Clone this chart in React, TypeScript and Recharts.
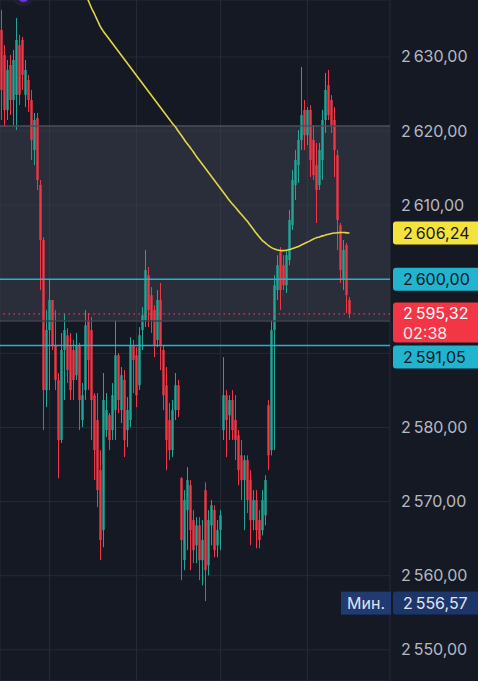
import React from "react";
import {
  ComposedChart,
  Bar,
  Line,
  XAxis,
  YAxis,
  CartesianGrid,
  ReferenceLine,
  ReferenceArea,
} from "recharts";

// --- data (117 candles) ---
const opens = [
  2633.65, 2630.3, 2622.85, 2628.92, 2624.2, 2624.88, 2631.6, 2632.3, 2624.9, 2626.9,
  2624.2, 2617.45, 2621.76, 2612.72, 2605.3, 2585.05, 2593.15, 2597.2, 2591.1, 2586.4,
  2578.3, 2590.45, 2592.45, 2591.1, 2590.45, 2587.05, 2591.1, 2581.0, 2585.05, 2594.5,
  2593.15, 2584.35, 2581.0, 2574.25, 2566.15, 2579.65, 2581.65, 2579.65, 2582.35, 2589.75,
  2582.35, 2586.4, 2579.65, 2581.0, 2591.1, 2589.75, 2585.7, 2593.15, 2594.5, 2600.55,
  2597.85, 2595.85, 2591.8, 2597.2, 2590.45, 2585.7, 2581.0, 2576.95, 2582.35, 2585.7,
  2573.15, 2562.1, 2568.85, 2572.2, 2567.5, 2564.1, 2566.8, 2562.1, 2571.55, 2561.4,
  2566.8, 2568.85, 2564.1, 2566.15, 2579.65, 2584.35, 2581.65, 2583.7, 2581.0, 2578.95,
  2576.25, 2572.9, 2575.6, 2572.9, 2567.5, 2570.2, 2567.5, 2566.15, 2568.15, 2583.0,
  2576.95, 2593.15, 2598.55, 2603.65, 2601.9, 2599.2, 2602.6, 2607.3, 2612.72, 2615.4,
  2618.8, 2622.85, 2619.45, 2622.85, 2618.8, 2615.4, 2612.72, 2616.1, 2621.5, 2626.2,
  2624.2, 2621.5, 2616.75, 2607.3, 2599.9, 2604.6, 2597.2,
];
const highs = [
  2636.35, 2631.6, 2629.6, 2630.3, 2630.95, 2635.27, 2632.98, 2632.7, 2629.6, 2627.55,
  2625.55, 2622.44, 2622.45, 2613.4, 2605.7, 2595.85, 2599.9, 2597.2, 2595.85, 2587.35,
  2592.75, 2595.45, 2593.4, 2592.75, 2591.8, 2592.75, 2591.4, 2586.0, 2595.85, 2595.45,
  2594.9, 2584.65, 2584.65, 2576.95, 2587.35, 2584.65, 2581.95, 2586.0, 2594.5, 2590.05,
  2588.15, 2587.75, 2584.1, 2592.2, 2591.8, 2590.85, 2593.55, 2596.25, 2603.95, 2601.65,
  2598.95, 2596.5, 2598.55, 2599.5, 2591.1, 2588.15, 2583.3, 2583.7, 2587.35, 2586.4,
  2573.3, 2571.55, 2574.65, 2572.9, 2568.85, 2567.9, 2567.9, 2567.5, 2572.6, 2568.85,
  2570.2, 2569.5, 2567.5, 2568.85, 2589.5, 2585.05, 2584.35, 2585.05, 2584.35, 2579.65,
  2578.3, 2576.25, 2576.25, 2574.25, 2571.55, 2571.55, 2568.85, 2571.55, 2573.55, 2583.7,
  2594.5, 2600.55, 2603.25, 2604.35, 2603.25, 2603.95, 2609.35, 2614.75, 2617.45, 2620.15,
  2628.65, 2624.2, 2623.25, 2623.5, 2620.8, 2618.4, 2618.4, 2622.85, 2627.85, 2628.25,
  2624.85, 2623.25, 2617.45, 2607.6, 2605.3, 2604.9, 2597.6,
];
const lows = [
  2621.5, 2620.55, 2621.5, 2622.18, 2620.83, 2620.15, 2623.53, 2625.55, 2623.25, 2622.57,
  2616.1, 2615.42, 2612.05, 2598.55, 2579.65, 2582.75, 2585.05, 2590.45, 2585.05, 2573.15,
  2577.9, 2583.7, 2586.0, 2583.7, 2583.7, 2586.4, 2579.65, 2580.05, 2583.7, 2585.05,
  2578.3, 2572.9, 2569.25, 2562.1, 2563.85, 2578.7, 2576.95, 2578.3, 2578.3, 2581.95,
  2580.6, 2576.0, 2577.35, 2580.05, 2584.65, 2582.75, 2585.05, 2590.45, 2593.55, 2593.55,
  2592.75, 2589.5, 2590.85, 2587.75, 2582.35, 2574.25, 2575.6, 2576.0, 2581.0, 2581.4,
  2559.4, 2560.75, 2563.45, 2560.75, 2561.7, 2561.7, 2559.4, 2558.7, 2556.57, 2560.05,
  2564.1, 2562.5, 2562.5, 2563.45, 2578.3, 2576.0, 2578.3, 2578.3, 2575.6, 2572.2,
  2570.2, 2566.15, 2568.45, 2564.1, 2566.15, 2563.7, 2563.7, 2565.45, 2566.8, 2574.25,
  2576.25, 2576.95, 2597.2, 2595.85, 2598.55, 2598.15, 2601.9, 2606.65, 2610.7, 2613.0,
  2617.45, 2617.45, 2618.1, 2613.8, 2613.4, 2607.6, 2612.05, 2613.4, 2619.75, 2621.5,
  2619.75, 2613.8, 2603.95, 2599.5, 2598.55, 2595.45, 2594.75,
];
const closes = [
  2625.55, 2622.85, 2628.25, 2624.2, 2629.6, 2632.3, 2624.9, 2627.57, 2628.25, 2624.2,
  2618.8, 2621.5, 2613.4, 2605.3, 2585.05, 2593.15, 2597.2, 2591.1, 2586.4, 2578.3,
  2590.45, 2593.15, 2587.75, 2585.05, 2586.4, 2591.1, 2583.7, 2584.35, 2593.8, 2589.1,
  2583.7, 2576.95, 2571.55, 2564.8, 2583.7, 2582.35, 2578.3, 2584.35, 2589.75, 2583.7,
  2587.05, 2578.3, 2582.35, 2591.1, 2589.1, 2584.35, 2592.45, 2595.15, 2601.25, 2595.85,
  2594.5, 2591.1, 2597.2, 2591.1, 2584.35, 2578.3, 2576.95, 2582.35, 2585.7, 2582.35,
  2564.8, 2570.2, 2572.9, 2566.15, 2563.45, 2566.8, 2562.1, 2564.8, 2560.75, 2567.5,
  2569.5, 2563.45, 2566.15, 2568.15, 2584.35, 2581.0, 2583.7, 2579.65, 2578.3, 2574.25,
  2572.9, 2575.6, 2570.2, 2567.5, 2570.2, 2566.15, 2564.8, 2570.2, 2572.9, 2576.25,
  2593.15, 2599.2, 2601.9, 2598.55, 2599.2, 2603.25, 2608.0, 2613.4, 2616.1, 2618.8,
  2622.15, 2619.45, 2622.85, 2616.1, 2614.05, 2612.05, 2617.45, 2621.5, 2625.55, 2622.15,
  2620.8, 2617.45, 2608.0, 2601.25, 2603.95, 2597.85, 2595.32,
];
// moving average (yellow), starts above the visible range
const ma: (number | null)[] = [
  null, null, null, null, null, null, null, null, null, null,
  null, null, null, null, null, null, null, null, null, null,
  null, null, null, null, null, null, null, null, 2638.5, 2637.56,
  2636.61, 2635.8, 2634.92, 2634.05, 2633.44, 2632.9, 2632.36, 2631.82, 2631.28, 2630.74,
  2630.2, 2629.66, 2629.12, 2628.58, 2628.04, 2627.5, 2626.96, 2626.42, 2625.88, 2625.34,
  2624.8, 2624.26, 2623.72, 2623.18, 2622.64, 2622.1, 2621.56, 2621.02, 2620.54, 2619.94,
  2619.4, 2618.79, 2618.25, 2617.71, 2617.17, 2616.56, 2616.02, 2615.48, 2614.94, 2614.4,
  2613.86, 2613.32, 2612.78, 2612.24, 2611.7, 2611.16, 2610.62, 2610.15, 2609.68, 2609.2,
  2608.73, 2608.26, 2607.79, 2607.25, 2606.71, 2606.17, 2605.69, 2605.22, 2604.89, 2604.55,
  2604.28, 2604.08, 2603.94, 2603.87, 2603.87, 2603.91, 2604.01, 2604.14, 2604.28, 2604.44,
  2604.62, 2604.82, 2605.02, 2605.22, 2605.43, 2605.59, 2605.72, 2605.86, 2605.97, 2606.07,
  2606.17, 2606.24, 2606.29, 2606.32, 2606.32, 2606.27, 2606.24,
];

const priceTicks = [2550, 2560, 2570, 2580, 2590, 2600, 2610, 2620, 2630];
const hiddenTickLabels = [2590, 2600]; // sit under the level badges
const gridCandles = [17, 46, 74, 103];
const zoneTop = 2620.69;
const zoneBottom = 2594.37;
const levelUpper = 2600.0;
const levelLower = 2591.05;
const lastTime = "02:38";

const UP = "#22a594";
const DOWN = "#f23645";
const BG = "#151924";
const PLOT_W = 390;

const rows = opens.map((o, k) => ({
  i: k + 1,
  open: o,
  high: highs[k],
  low: lows[k],
  close: closes[k],
  range: [lows[k], highs[k]],
  ma: ma[k],
}));

const lastClose = closes[closes.length - 1];
const lastMa = ma[ma.length - 1] as number;
const minLow = Math.min(...lows);

const fmt = (v: number) => {
  const [a, b] = v.toFixed(2).split(".");
  return a.replace(/\B(?=(\d{3})+(?!\d))/g, "\u202F") + "," + b;
};

const FONT = "Inter, Roboto, 'Noto Sans', sans-serif";

function Candle(props: any) {
  const { x, y, width, height, payload } = props;
  if (!payload) return null;
  const { open, close, high, low } = payload;
  const top = Math.min(y, y + height);
  const h = Math.abs(height);
  const py = (v: number) => top + ((high - v) / (high - low || 1)) * h;
  const color = close >= open ? UP : DOWN;
  const cx = x + width / 2;
  const bw = 2.4;
  const bTop = py(Math.max(open, close));
  const bBot = py(Math.min(open, close));
  return (
    <g>
      <line x1={cx} x2={cx} y1={top} y2={top + h} stroke={color} strokeWidth={1} />
      <rect x={cx - bw / 2} y={bTop} width={bw} height={Math.max(1, bBot - bTop)} fill={color} />
    </g>
  );
}

function PriceTick(props: any) {
  const { x, y, payload } = props;
  if (hiddenTickLabels.includes(payload.value)) return <g />;
  return (
    <text x={x + 3} y={y} dy={5.5} fill="#b6b9c2" fontSize={16} fontFamily={FONT} textAnchor="start">
      {fmt(payload.value)}
    </text>
  );
}

// badge on the price scale, hung off a reference line
function Tag({ viewBox, fill, color, text, sub, prefix, dy = 0 }: any) {
  if (!viewBox) return null;
  const bx = viewBox.x + viewBox.width + 3;
  const cy = viewBox.y + dy;
  const h = sub ? 40 : 23;
  const top = cy - 11.5;
  return (
    <g fontFamily={FONT} fontSize={16}>
      {prefix && (
        <>
          <rect x={bx - 52} y={top} width={50} height={h} fill="#1f3b72" />
          <text x={bx - 46} y={cy} dy={5.5} fill="#e1e4ec">{prefix}</text>
        </>
      )}
      <rect x={bx} y={top} width={88} height={h} rx={3} fill={fill} />
      <text x={bx + 10} y={cy} dy={5.5} fill={color}>{text}</text>
      {sub && (
        <text x={bx + 10} y={cy + 20} dy={5.5} fill={color} opacity={0.9}>{sub}</text>
      )}
    </g>
  );
}

export default function App() {
  return (
    <div style={{ position: "fixed", left: 0, top: 0, width: 478, height: 681, background: BG, overflow: "hidden" }}>
      <ComposedChart
        width={478}
        height={681}
        data={rows}
        margin={{ top: 0, right: 0, bottom: 0, left: 0 }}
        barCategoryGap={0}
        barGap={0}
      >
        <CartesianGrid stroke="#262a36" strokeWidth={1} />
        <XAxis dataKey="i" hide ticks={gridCandles} padding={{ left: 0, right: 39 }} />
        <YAxis
          orientation="right"
          width={88}
          domain={[2545.79, 2637.69]}
          allowDataOverflow
          ticks={priceTicks}
          axisLine={false}
          tickLine={false}
          tick={<PriceTick />}
        />

        {/* zone box spans the whole plot, including the empty space right of the last candle */}
        <ReferenceArea
          y1={zoneBottom}
          y2={zoneTop}
          ifOverflow="visible"
          shape={(p: any) => (
            <rect x={0} y={p.y} width={PLOT_W} height={p.height} fill="#3d404c" fillOpacity={0.55} />
          )}
        />
        <ReferenceLine y={zoneTop} stroke="#4d505c" strokeWidth={1.5} />
        <ReferenceLine y={zoneBottom} stroke="#3f424e" strokeWidth={1.5} />

        <Bar dataKey="range" isAnimationActive={false} shape={(p: any) => <Candle {...p} />} />

        <Line
          dataKey="ma"
          type="monotone"
          stroke="#e2d548"
          strokeWidth={1.6}
          dot={false}
          activeDot={false}
          isAnimationActive={false}
        />

        <ReferenceLine
          y={levelUpper}
          stroke="#22b4cf"
          strokeWidth={1.5}
          label={(p: any) => <Tag viewBox={p.viewBox} fill="#22b4cf" color="#0f1720" text={fmt(levelUpper)} />}
        />
        <ReferenceLine
          y={levelLower}
          stroke="#22b4cf"
          strokeWidth={1.5}
          label={(p: any) => <Tag viewBox={p.viewBox} fill="#22b4cf" color="#0f1720" text={fmt(levelLower)} dy={11.5} />}
        />
        <ReferenceLine
          y={lastClose}
          stroke="#f23645"
          strokeDasharray="1.5 3.5"
          strokeWidth={1.2}
          label={(p: any) => <Tag viewBox={p.viewBox} fill="#f23645" color="#ffffff" text={fmt(lastClose)} sub={lastTime} />}
        />
        <ReferenceLine
          y={lastMa}
          stroke="none"
          label={(p: any) => <Tag viewBox={p.viewBox} fill="#f5e23d" color="#131722" text={fmt(lastMa)} />}
        />
        <ReferenceLine
          y={minLow}
          stroke="none"
          label={(p: any) => <Tag viewBox={p.viewBox} fill="#1c366a" color="#e1e4ec" text={fmt(minLow)} prefix="Мин." dy={2} />}
        />
      </ComposedChart>
      <div
        style={{
          position: "absolute",
          left: 11,
          top: -18,
          width: 24,
          height: 24,
          borderRadius: 12,
          background: "#231d3a",
          display: "flex",
          alignItems: "center",
          justifyContent: "center",
        }}
      >
        <div style={{ width: 11, height: 11, borderRadius: 6, background: "#6a35d8", marginTop: 4 }} />
      </div>
    </div>
  );
}
